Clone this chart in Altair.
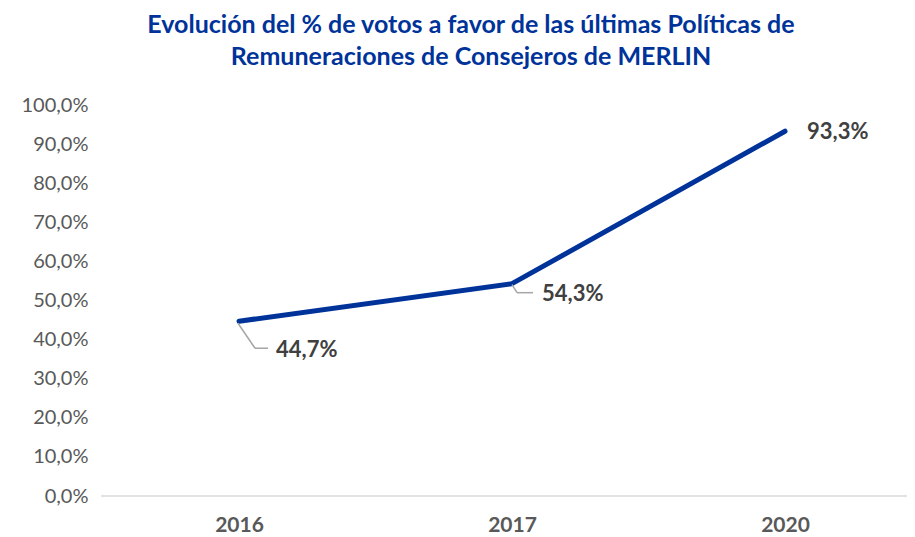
import altair as alt
import pandas as pd

years = ["2016", "2017", "2020"]
votes = [0.447, 0.543, 0.933]
labels = ["44,7%", "54,3%", "93,3%"]

df = pd.DataFrame({"year": years, "votes": votes, "label": labels})

BLUE = "#003399"
FONT = "Lato"
W, H = 806, 391

x = alt.X("year:N", sort=years,
          scale=alt.Scale(type="point", range=[138, 684], padding=0),
          axis=alt.Axis(title=None, labelAngle=0, labelFont=FONT, labelFontSize=21,
                        labelFontWeight="bold", labelColor="#595959", ticks=False,
                        domain=False, labelPadding=18))
y = alt.Y("votes:Q", scale=alt.Scale(domain=[0, 1]),
          axis=alt.Axis(title=None, values=[i / 10 for i in range(11)],
                        labelExpr="replace(format(datum.value, '.1%'), '.', ',')",
                        labelFont=FONT, labelFontSize=20, labelColor="#595959",
                        grid=False, domain=False, ticks=False, labelPadding=13))

base = alt.Chart(df)

axis_line = alt.Chart(df.head(1)).mark_rule(color="#d9d9d9", strokeWidth=1.5).encode(
    x=alt.value(0), x2=alt.value(W + 20), y=alt.value(H))

line = base.mark_line(color=BLUE, strokeWidth=5, strokeCap="round",
                      strokeJoin="round").encode(x=x, y=y)

# leader lines
lc = "#a6a6a6"
def leader(year, seg):
    d = df[df.year == year]
    out = []
    for (x1, y1, x2, y2) in seg:
        out.append(alt.Chart(d).mark_rule(color=lc, strokeWidth=1.5,
                   xOffset=x1, yOffset=y1, x2Offset=x2, y2Offset=y2)
                   .encode(x=x, y=y, x2="year:N", y2="votes:Q"))
    return out

leaders = leader("2016", [(-1, 2, 16, 27), (16, 27, 29, 27)]) + \
          leader("2017", [(0, 1, 5, 9), (5, 9, 21, 9)])

def lab(year, dx, dy):
    return alt.Chart(df[df.year == year]).mark_text(
        font=FONT, fontSize=22, fontWeight="bold", color="#404040",
        align="left", baseline="middle", dx=dx, dy=dy).encode(x=x, y=y, text="label:N")

texts = [lab("2016", 37, 29), lab("2017", 30, 10), lab("2020", 22, 1)]

chart = alt.layer(axis_line, line, *leaders, *texts).properties(
    width=W, height=H,
    autosize=alt.AutoSizeParams(type="none"),
    padding={"left": 93, "top": 97, "right": 0, "bottom": 42},
    title=alt.TitleParams(
        ["Evolución del % de votos a favor de las últimas Políticas de",
         "Remuneraciones de Consejeros de MERLIN"],
        font=FONT, fontSize=25, fontWeight="bold", color=BLUE,
        anchor="middle", dx=-33, offset=25, lineHeight=32),
).configure_view(stroke=None)

chart.save("out.html", embed_options={"renderer": "svg", "actions": False})
